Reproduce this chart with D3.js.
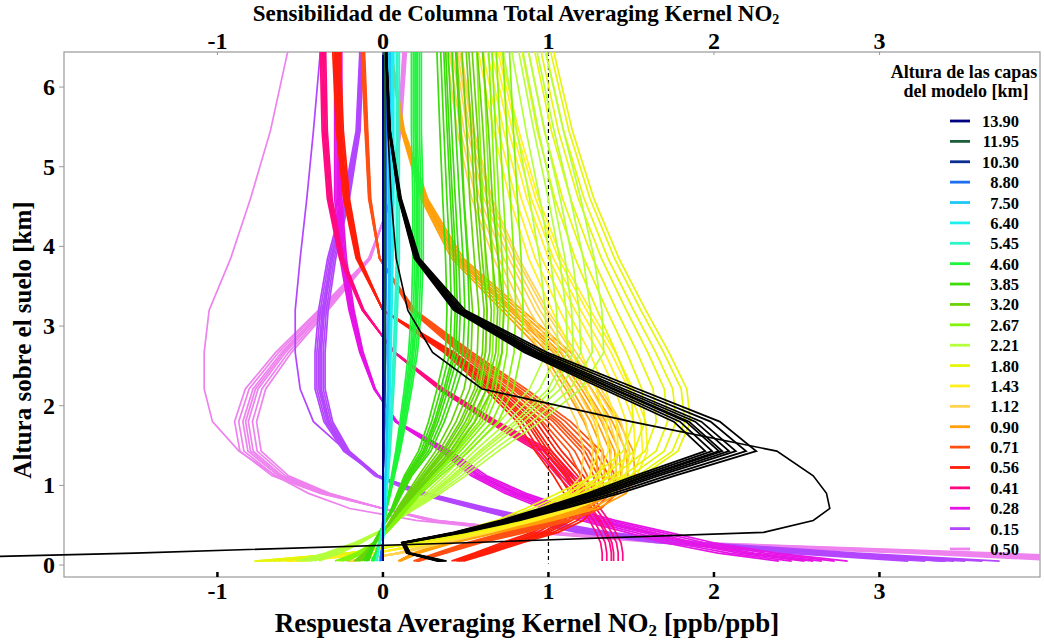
<!DOCTYPE html>
<html>
<head>
<meta charset="utf-8">
<script src="https://cdn.jsdelivr.net/npm/d3@7"></script>
<style>
  body { margin: 0; background: #fff; }
  text { font-family: "Liberation Serif", "Times New Roman", serif; font-weight: bold; }
</style>
</head>
<body>
<div id="chart"></div>
<script>
// model altitude levels (km) where each kernel row is sampled
var altKm = [0.05, 0.15, 0.28, 0.41, 0.56, 0.71, 0.90, 1.12, 1.43, 1.80, 2.21, 2.67, 3.20, 3.85, 4.60, 5.45, 6.40, 7.50];

// legend: layer heights and colours
var layerLabels = ["13.90", "11.95", "10.30", "8.80", "7.50", "6.40", "5.45", "4.60", "3.85", "3.20", "2.67",
  "2.21", "1.80", "1.43", "1.12", "0.90", "0.71", "0.56", "0.41", "0.28", "0.15", "0.50"];
var layerColors = ["#000080", "#1a5e3a", "#0a2d8f", "#1e6ef0", "#1ec8f5", "#1ef0f0", "#2ef5c8", "#1ef53a", "#3cdc0a", "#6ad20a", "#82f50a",
  "#b4ff3c", "#e6f50a", "#fff01e", "#ffd250", "#ffa00a", "#ff5014", "#ff1e0a", "#ff0a82", "#e614e6", "#b446ff", "#ee82ee"];

// averaging kernel rows (value at each altKm)
var ak1390 = [0, 0, 0, 0, 0, 0, 0, 0, 0, 0, 0, 0, 0, 0, 0, 0, 0, 0];
var ak1195 = [0, 0, 0, 0, 0, 0, 0, 0, 0, 0, 0, 0.005, 0.01, 0.01, 0.01, 0.01, 0.01, 0.01];
var ak1030 = [0, 0, 0, 0, 0, 0, 0, 0, 0.005, 0.005, 0.01, 0.01, 0.01, 0.01, 0.012, 0.012, 0.012, 0.012];
var ak880 = [-0.01, -0.01, 0, 0, 0, 0, 0, 0, 0.005, 0.01, 0.01, 0.015, 0.015, 0.02, 0.02, 0.02, 0.02, 0.02];
var ak750 = [-0.02, -0.01, 0, 0, 0.005, 0.01, 0.01, 0.015, 0.02, 0.025, 0.03, 0.03, 0.035, 0.04, 0.04, 0.04, 0.04, 0.04];
var ak640 = [-0.02, -0.01, 0, 0.005, 0.01, 0.015, 0.02, 0.025, 0.03, 0.035, 0.04, 0.045, 0.05, 0.055, 0.06, 0.06, 0.06, 0.06];
var ak545 = [-0.04, -0.03, -0.02, -0.01, 0, 0.01, 0.02, 0.03, 0.04, 0.05, 0.06, 0.07, 0.08, 0.09, 0.09, 0.09, 0.09, 0.09];
var ak460 = [-0.06, -0.04, -0.02, 0, 0.01, 0.02, 0.04, 0.06, 0.09, 0.12, 0.15, 0.18, 0.2, 0.21, 0.21, 0.2, 0.2, 0.2];
var ak385 = [-0.1, -0.08, -0.05, -0.02, 0.02, 0.06, 0.1, 0.15, 0.25, 0.32, 0.38, 0.44, 0.45, 0.44, 0.42, 0.4, 0.38, 0.37];
var ak320 = [-0.15, -0.1, -0.05, 0, 0.05, 0.1, 0.17, 0.25, 0.37, 0.48, 0.57, 0.62, 0.63, 0.6, 0.57, 0.55, 0.52, 0.5];
var ak267 = [-0.25, -0.14, -0.05, 0.02, 0.08, 0.13, 0.2, 0.3, 0.45, 0.6, 0.68, 0.72, 0.73, 0.72, 0.7, 0.68, 0.66, 0.64];
var ak221 = [-0.45, -0.3, -0.15, -0.03, 0.07, 0.17, 0.3, 0.43, 0.6, 0.82, 1.03, 1.15, 1.14, 1.1, 1.03, 0.94, 0.85, 0.8];
var ak180 = [-0.72, -0.2, 0.2, 0.5, 0.78, 0.98, 1.2, 1.45, 1.65, 1.72, 1.7, 1.6, 1.47, 1.32, 1.18, 1.06, 0.96, 0.9];
var ak143 = [-0.55, -0.05, 0.3, 0.58, 0.86, 1.08, 1.28, 1.42, 1.48, 1.47, 1.4, 1.3, 1.16, 1.0, 0.87, 0.76, 0.66, 0.6];
var ak112 = [-0.2, 0.1, 0.35, 0.6, 0.85, 1.08, 1.26, 1.36, 1.38, 1.33, 1.22, 1.08, 0.92, 0.76, 0.61, 0.51, 0.44, 0.4];
var ak090 = [0.1, 0.2, 0.4, 0.65, 0.95, 1.2, 1.36, 1.41, 1.4, 1.32, 1.2, 1.05, 0.78, 0.45, 0.25, 0.12, 0.05, 0.03];
var ak071 = [0.2, 0.35, 0.55, 0.8, 1.05, 1.22, 1.31, 1.3, 1.22, 1.05, 0.8, 0.5, 0.18, -0.02, -0.08, -0.1, -0.12, -0.12];
var ak056 = [0.45, 0.6, 0.78, 0.98, 1.12, 1.18, 1.19, 1.12, 1.0, 0.88, 0.67, 0.4, 0.0, -0.15, -0.22, -0.26, -0.28, -0.28];
var ak041 = [1.38, 1.38, 1.37, 1.34, 1.3, 1.25, 1.2, 1.1, 0.97, 0.66, 0.35, 0.07, -0.12, -0.25, -0.32, -0.35, -0.36, -0.36];
var ak028 = [2.6, 2.2, 1.85, 1.6, 1.3, 1.05, 0.8, 0.58, 0.38, 0.08, -0.05, -0.13, -0.19, -0.24, -0.27, -0.27, -0.27, -0.27];
var ak015 = [3.45, 2.65, 1.8, 1.27, 0.9, 0.6, 0.25, -0.03, -0.22, -0.33, -0.38, -0.38, -0.36, -0.31, -0.22, -0.15, -0.13, -0.12];
var ak050 = [4.5, 3.45, 1.8, 0.95, 0.3, 0.0, -0.35, -0.62, -0.8, -0.83, -0.77, -0.6, -0.36, -0.08, 0.05, 0.1, 0.13, 0.15];

// single stray rows that leave their bundle
var ak050Stray = [4.5, 3.4, 1.8, 0.9, 0.2, -0.2, -0.45, -0.65, -0.87, -1.03, -1.08, -1.08, -1.05, -0.92, -0.8, -0.68, -0.58, -0.45];
var ak015Stray = [3.4, 2.6, 1.75, 1.2, 0.85, 0.55, 0.2, -0.05, -0.22, -0.42, -0.5, -0.53, -0.53, -0.5, -0.46, -0.42, -0.38, -0.36];

// total column sensitivity (black, top axis)
var colSens = [0.35, 0.15, 0.12, 0.45, 0.75, 1.0, 1.3, 1.6, 2.05, 1.85, 1.4, 0.9, 0.45, 0.2, 0.1, 0.04, 0.02, 0.02];
var colSensStray = [-3.5, -1.5, 0.5, 2.3, 2.6, 2.7, 2.68, 2.6, 2.38, 1.5, 0.6, 0.3, 0.15, 0.08, 0.05, 0.03, 0.02, 0.02];

// how much each day's profile is stretched within a bundle
var spreadSmall = [0.9, 1.0, 1.1];
var spreadGreen = [0.86, 0.92, 0.97, 1.0, 1.04, 1.1, 1.16];
var spreadYellow = [0.88, 0.92, 0.96, 1.0, 1.03, 1.06, 1.08];
var spreadWarm = [0.92, 0.95, 0.98, 1.0, 1.02, 1.05, 1.08];
var spreadTight = [0.96, 0.98, 1.0, 1.01, 1.03, 1.05];
var spreadBlack = [0.95, 0.97, 0.99, 1.0, 1.02, 1.04, 1.07, 1.1];

var xTicks = [-1, 0, 1, 2, 3];
var yTicks = [0, 1, 2, 3, 4, 5, 6];

var profiles = [ak1390, ak1195, ak1030, ak880, ak750, ak640, ak545, ak460, ak385, ak320, ak267,
  ak221, ak180, ak143, ak112, ak090, ak071, ak056, ak041, ak028, ak015, ak050];
var spreads = [spreadSmall, spreadSmall, spreadSmall, spreadSmall, spreadSmall, spreadSmall, spreadSmall,
  spreadGreen, spreadGreen, spreadGreen, spreadGreen, spreadGreen, spreadYellow, spreadYellow, spreadYellow,
  spreadWarm, spreadWarm, spreadWarm, spreadTight, spreadWarm, spreadWarm, spreadWarm];

var width = 1044, height = 642;
var margin = { left: 64, right: 4, top: 52, bottom: 65 };

var svg = d3
  .select("#chart")
  .append("svg")
  .attr("width", width)
  .attr("height", height);

var x = d3.scaleLinear().domain([-1.927, 3.97]).range([margin.left, width - margin.right]);
var y = d3.scaleLinear().domain([-0.15, 6.44]).range([height - margin.bottom, margin.top]);

svg.append("clipPath")
  .attr("id", "plotClip")
  .append("rect")
  .attr("x", 0)
  .attr("y", margin.top)
  .attr("width", width - margin.right)
  .attr("height", height - margin.bottom - margin.top);

var line = d3.line()
  .x(function (d) { return x(d[0]); })
  .y(function (d) { return y(d[1]); });

function rows(profile, scale) {
  return profile.map(function (v, i) { return [v * scale, altKm[i]]; });
}

// frame
svg.append("rect")
  .attr("x", margin.left)
  .attr("y", margin.top)
  .attr("width", width - margin.right - margin.left)
  .attr("height", height - margin.bottom - margin.top)
  .style("fill", "none")
  .style("stroke", "#999")
  .style("stroke-width", 1.2);

var plot = svg.append("g").attr("clip-path", "url(#plotClip)");

// dashed reference at 1
plot.append("line")
  .attr("x1", x(1)).attr("x2", x(1))
  .attr("y1", y(6.44)).attr("y2", y(0.02))
  .style("stroke", "#000")
  .style("stroke-width", 1.2)
  .style("stroke-dasharray", "4,3");

// draw low layers first, high layers last
for (var k = profiles.length - 1; k >= 0; k--) {
  spreads[k].forEach(function (s) {
    plot.append("path")
      .attr("d", line(rows(profiles[k], s)))
      .style("fill", "none")
      .style("stroke", layerColors[k])
      .style("stroke-width", 1.7);
  });
  if (k === 21) {
    plot.append("path").attr("d", line(rows(ak050Stray, 1)))
      .style("fill", "none").style("stroke", layerColors[k]).style("stroke-width", 1.7);
  }
  if (k === 20) {
    plot.append("path").attr("d", line(rows(ak015Stray, 1)))
      .style("fill", "none").style("stroke", layerColors[k]).style("stroke-width", 1.7);
  }
}

spreadBlack.forEach(function (s) {
  plot.append("path")
    .attr("d", line(rows(colSens, s)))
    .style("fill", "none")
    .style("stroke", "#000")
    .style("stroke-width", 1.8);
});
plot.append("path")
  .attr("d", line(rows(colSensStray, 1)))
  .style("fill", "none")
  .style("stroke", "#000")
  .style("stroke-width", 1.6);

// bottom axis
var bottomAxis = svg.append("g");
bottomAxis.selectAll(".tk")
  .data(xTicks).enter().append("line")
  .attr("x1", function (d) { return x(d); }).attr("x2", function (d) { return x(d); })
  .attr("y1", height - margin.bottom - 5).attr("y2", height - margin.bottom)
  .style("stroke", "#000").style("stroke-width", 2.5);
bottomAxis.selectAll(".lb")
  .data(xTicks).enter().append("text")
  .attr("x", function (d) { return x(d); })
  .attr("y", height - margin.bottom + 22)
  .attr("text-anchor", "middle")
  .style("font-size", "24px")
  .text(function (d) { return d; });

// top axis
var topAxis = svg.append("g");
topAxis.selectAll(".tk")
  .data(xTicks).enter().append("line")
  .attr("x1", function (d) { return x(d); }).attr("x2", function (d) { return x(d); })
  .attr("y1", margin.top).attr("y2", margin.top + 3)
  .style("stroke", "#999").style("stroke-width", 1);
topAxis.selectAll(".lb")
  .data(xTicks).enter().append("text")
  .attr("x", function (d) { return x(d); })
  .attr("y", margin.top - 3)
  .attr("text-anchor", "middle")
  .style("font-size", "24px")
  .text(function (d) { return d; });

// left axis
var leftAxis = svg.append("g");
leftAxis.selectAll(".tk")
  .data(yTicks).enter().append("line")
  .attr("x1", margin.left - 5).attr("x2", margin.left)
  .attr("y1", function (d) { return y(d); }).attr("y2", function (d) { return y(d); })
  .style("stroke", "#999").style("stroke-width", 1);
leftAxis.selectAll(".lb")
  .data(yTicks).enter().append("text")
  .attr("x", margin.left - 9)
  .attr("y", function (d) { return y(d) + 8; })
  .attr("text-anchor", "end")
  .style("font-size", "24px")
  .text(function (d) { return d; });

// titles
var t1 = svg.append("text")
  .attr("x", 516).attr("y", 21)
  .attr("text-anchor", "middle")
  .style("font-size", "23px");
t1.append("tspan").text("Sensibilidad de Columna Total Averaging Kernel NO");
t1.append("tspan").attr("dy", 3).style("font-size", "14px").text("2");

var t2 = svg.append("text")
  .attr("x", 527).attr("y", 632)
  .attr("text-anchor", "middle")
  .style("font-size", "27px");
t2.append("tspan").text("Respuesta Averaging Kernel NO");
t2.append("tspan").attr("dy", 4).style("font-size", "17px").text("2");
t2.append("tspan").attr("dy", -4).text(" [ppb/ppb]");

svg.append("text")
  .attr("transform", "translate(31,340) rotate(-90)")
  .attr("text-anchor", "middle")
  .style("font-size", "25px")
  .text("Altura sobre el suelo [km]");

// legend
var legend = svg.append("g").attr("class", "legend");
legend.append("text").attr("x", 964).attr("y", 78).attr("text-anchor", "middle")
  .style("font-size", "18px").text("Altura de las capas");
legend.append("text").attr("x", 966).attr("y", 97).attr("text-anchor", "middle")
  .style("font-size", "18px").text("del modelo [km]");

var ly = d3.scalePoint().domain(layerLabels).range([121, 549]);
var item = legend.selectAll(".item")
  .data(layerLabels).enter().append("g")
  .attr("transform", function (d) { return "translate(0," + ly(d) + ")"; });
item.append("line")
  .attr("x1", 950).attr("x2", 970)
  .style("stroke", function (d, i) { return layerColors[i]; })
  .style("stroke-width", 2.8);
item.append("text")
  .attr("x", 1019).attr("y", 6)
  .attr("text-anchor", "end")
  .style("font-size", "16.5px")
  .text(function (d) { return d; });
</script>
</body>
</html>
